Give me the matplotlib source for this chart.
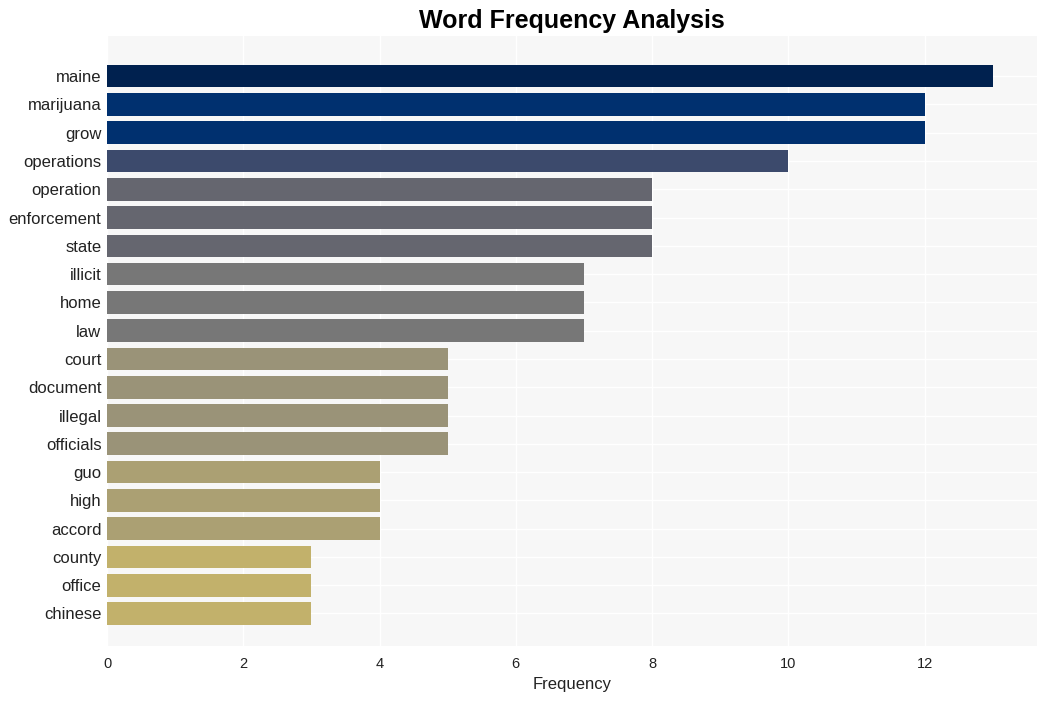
import matplotlib.pyplot as plt

plt.rcParams["font.family"] = ["Liberation Sans", "DejaVu Sans"]

words = ["maine", "marijuana", "grow", "operations", "operation", "enforcement",
         "state", "illicit", "home", "law", "court", "document", "illegal",
         "officials", "guo", "high", "accord", "county", "office", "chinese"]
counts = [13, 12, 12, 10, 8, 8, 8, 7, 7, 7, 5, 5, 5, 5, 4, 4, 4, 3, 3, 3]

# colour per frequency (cividis-like)
palette = {13: "#00214f", 12: "#00306f", 10: "#3c4a6c", 8: "#65666f",
           7: "#777777", 5: "#9a9378", 4: "#aba073", 3: "#c2b16b"}
colors = [palette[c] for c in counts]

fig = plt.figure(figsize=(10.47, 7.01), dpi=100)
ax = fig.add_axes([107 / 1047, 1 - 646 / 701, 930 / 1047, 610 / 701])
ax.set_facecolor("#f7f7f7")

y = list(range(len(words)))
ax.barh(y, counts, height=0.8, color=colors, zorder=2)
ax.set_yticks(y)
ax.set_yticklabels(words, fontsize=12, color="#222222")
ax.set_xticks(range(0, 14, 2))
ax.tick_params(axis="x", labelsize=10.5, colors="#222222", length=0, pad=8)
ax.tick_params(axis="y", length=0, pad=4)
ax.set_xlim(0, 13.65)
ax.set_ylim(20.15, -1.42)

ax.grid(True, color="white", linewidth=1, zorder=0)
ax.set_axisbelow(True)
for s in ax.spines.values():
    s.set_visible(False)

ax.set_xlabel("Frequency", fontsize=12, color="#222222", labelpad=4)
ax.set_title("Word Frequency Analysis", fontsize=18, fontweight="bold", pad=6)

fig.savefig("out.png", dpi=100)
